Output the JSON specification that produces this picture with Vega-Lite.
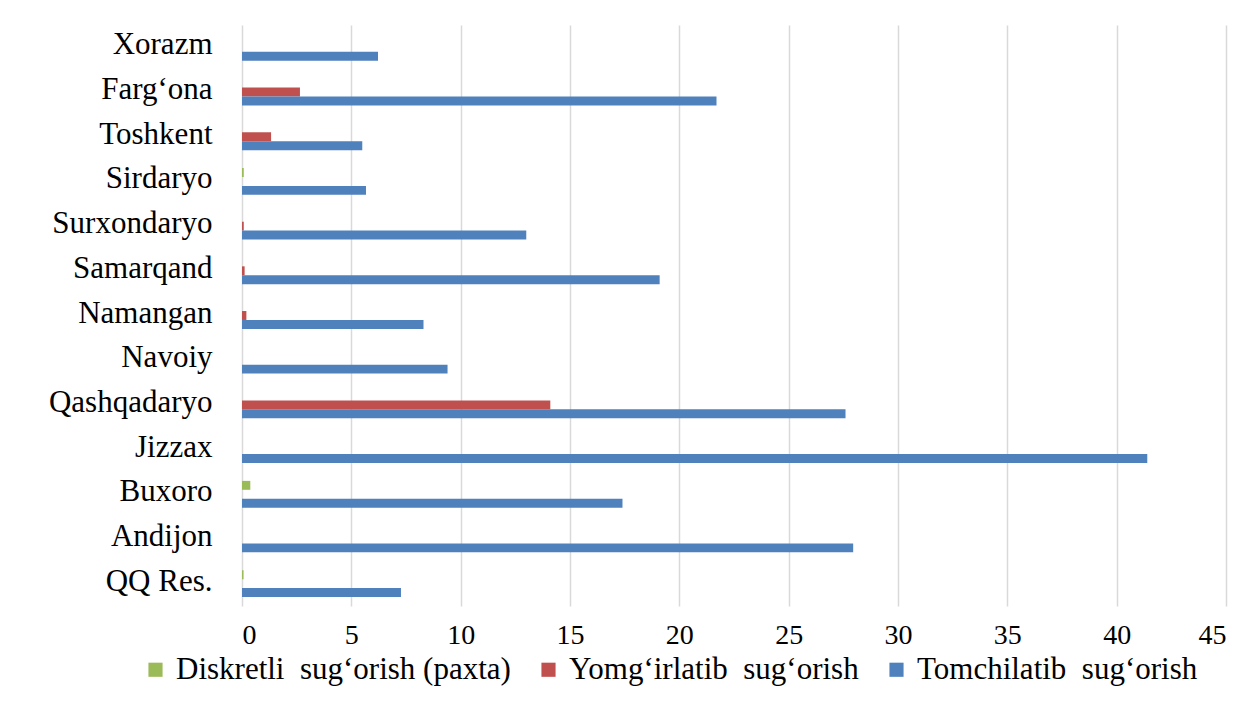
{
  "$schema": "https://vega.github.io/schema/vega-lite/v6.json",
  "autosize": {"type": "none"},
  "width": 984,
  "height": 581,
  "padding": {"left": 242, "top": 25, "right": 19, "bottom": 111},
  "background": "white",
  "config": {
    "view": {"stroke": null},
    "font": "Liberation Serif"
  },
  "data": {
    "values": [
      {"region": "Xorazm", "series": "Diskretli\u00a0 sug‘orish (paxta)", "value": 0},
      {"region": "Xorazm", "series": "Yomg‘irlatib\u00a0 sug‘orish", "value": 0},
      {"region": "Xorazm", "series": "Tomchilatib\u00a0 sug‘orish", "value": 6.22},
      {"region": "Farg‘ona", "series": "Diskretli\u00a0 sug‘orish (paxta)", "value": 0},
      {"region": "Farg‘ona", "series": "Yomg‘irlatib\u00a0 sug‘orish", "value": 2.65},
      {"region": "Farg‘ona", "series": "Tomchilatib\u00a0 sug‘orish", "value": 21.7},
      {"region": "Toshkent", "series": "Diskretli\u00a0 sug‘orish (paxta)", "value": 0},
      {"region": "Toshkent", "series": "Yomg‘irlatib\u00a0 sug‘orish", "value": 1.33},
      {"region": "Toshkent", "series": "Tomchilatib\u00a0 sug‘orish", "value": 5.5},
      {"region": "Sirdaryo", "series": "Diskretli\u00a0 sug‘orish (paxta)", "value": 0.08},
      {"region": "Sirdaryo", "series": "Yomg‘irlatib\u00a0 sug‘orish", "value": 0},
      {"region": "Sirdaryo", "series": "Tomchilatib\u00a0 sug‘orish", "value": 5.67},
      {"region": "Surxondaryo", "series": "Diskretli\u00a0 sug‘orish (paxta)", "value": 0},
      {"region": "Surxondaryo", "series": "Yomg‘irlatib\u00a0 sug‘orish", "value": 0.08},
      {"region": "Surxondaryo", "series": "Tomchilatib\u00a0 sug‘orish", "value": 13.0},
      {"region": "Samarqand", "series": "Diskretli\u00a0 sug‘orish (paxta)", "value": 0},
      {"region": "Samarqand", "series": "Yomg‘irlatib\u00a0 sug‘orish", "value": 0.12},
      {"region": "Samarqand", "series": "Tomchilatib\u00a0 sug‘orish", "value": 19.1},
      {"region": "Namangan", "series": "Diskretli\u00a0 sug‘orish (paxta)", "value": 0},
      {"region": "Namangan", "series": "Yomg‘irlatib\u00a0 sug‘orish", "value": 0.2},
      {"region": "Namangan", "series": "Tomchilatib\u00a0 sug‘orish", "value": 8.3},
      {"region": "Navoiy", "series": "Diskretli\u00a0 sug‘orish (paxta)", "value": 0},
      {"region": "Navoiy", "series": "Yomg‘irlatib\u00a0 sug‘orish", "value": 0},
      {"region": "Navoiy", "series": "Tomchilatib\u00a0 sug‘orish", "value": 9.4},
      {"region": "Qashqadaryo", "series": "Diskretli\u00a0 sug‘orish (paxta)", "value": 0},
      {"region": "Qashqadaryo", "series": "Yomg‘irlatib\u00a0 sug‘orish", "value": 14.1},
      {"region": "Qashqadaryo", "series": "Tomchilatib\u00a0 sug‘orish", "value": 27.6},
      {"region": "Jizzax", "series": "Diskretli\u00a0 sug‘orish (paxta)", "value": 0},
      {"region": "Jizzax", "series": "Yomg‘irlatib\u00a0 sug‘orish", "value": 0},
      {"region": "Jizzax", "series": "Tomchilatib\u00a0 sug‘orish", "value": 41.4},
      {"region": "Buxoro", "series": "Diskretli\u00a0 sug‘orish (paxta)", "value": 0.38},
      {"region": "Buxoro", "series": "Yomg‘irlatib\u00a0 sug‘orish", "value": 0},
      {"region": "Buxoro", "series": "Tomchilatib\u00a0 sug‘orish", "value": 17.4},
      {"region": "Andijon", "series": "Diskretli\u00a0 sug‘orish (paxta)", "value": 0},
      {"region": "Andijon", "series": "Yomg‘irlatib\u00a0 sug‘orish", "value": 0},
      {"region": "Andijon", "series": "Tomchilatib\u00a0 sug‘orish", "value": 27.95},
      {"region": "QQ Res.", "series": "Diskretli\u00a0 sug‘orish (paxta)", "value": 0.07},
      {"region": "QQ Res.", "series": "Yomg‘irlatib\u00a0 sug‘orish", "value": 0},
      {"region": "QQ Res.", "series": "Tomchilatib\u00a0 sug‘orish", "value": 7.27}
    ]
  },
  "mark": {"type": "bar"},
  "encoding": {
    "y": {
      "field": "region",
      "type": "nominal",
      "sort": null,
      "scale": {"paddingInner": 0.4, "paddingOuter": 0.2},
      "axis": {
        "title": null,
        "ticks": false,
        "domain": false,
        "labelFont": "Liberation Serif",
        "labelFontSize": 31,
        "labelColor": "#000000",
        "labelPadding": 30,
        "labelAlign": "right",
        "labelBaseline": "middle",
        "labelOffset": -2
      }
    },
    "yOffset": {
      "field": "series",
      "type": "nominal",
      "scale": {"domain": ["Diskretli\u00a0 sug‘orish (paxta)", "Yomg‘irlatib\u00a0 sug‘orish", "Tomchilatib\u00a0 sug‘orish"], "paddingInner": 0, "paddingOuter": 0}
    },
    "x": {
      "field": "value",
      "type": "quantitative",
      "scale": {"domain": [0, 45], "nice": false},
      "axis": {
        "title": null,
        "values": [0, 5, 10, 15, 20, 25, 30, 35, 40, 45],
        "domain": false,
        "ticks": false,
        "grid": true,
        "gridColor": "#d9d9d9",
        "gridWidth": 1.5,
        "labelFont": "Liberation Serif",
        "labelFontSize": 28,
        "labelColor": "#000000",
        "labelPadding": 15
      }
    },
    "color": {
      "field": "series",
      "type": "nominal",
      "scale": {
        "domain": ["Diskretli\u00a0 sug‘orish (paxta)", "Yomg‘irlatib\u00a0 sug‘orish", "Tomchilatib\u00a0 sug‘orish"],
        "range": ["#9BBB59", "#C0504D", "#4F81BD"]
      },
      "legend": {
        "title": null,
        "orient": "none",
        "legendX": -102,
        "legendY": 629,
        "direction": "horizontal",
        "columns": 3,
        "symbolType": "square",
        "symbolSize": 200,
        "symbolStrokeWidth": 0,
        "labelFont": "Liberation Serif",
        "labelFontSize": 31,
        "labelColor": "#000000",
        "labelLimit": 600,
        "labelOffset": 5,
        "columnPadding": 22
      }
    }
  }
}
